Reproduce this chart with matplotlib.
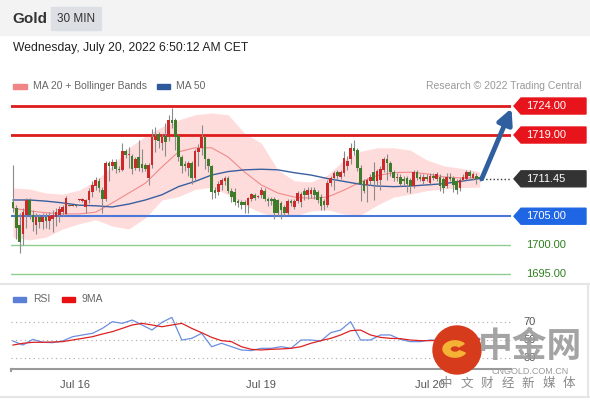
import numpy as np
import matplotlib.pyplot as plt
from matplotlib.patches import Rectangle, Polygon, Ellipse, Wedge

plt.rcParams['font.family'] = ['Liberation Sans', 'DejaVu Sans']

# OHLC, 30 minute bars
opens = [1707.4, 1706.4, 1703.5, 1702.0, 1705.2, 1707.8, 1705.2, 1703.5, 1704.8, 1704.0,
         1704.8, 1704.2, 1704.5, 1704.8, 1705.2, 1705.8, 1705.4, 1707.0, 1706.8, 1706.8,
         1707.8, 1707.6, 1706.6, 1707.8, 1709.2, 1710.2, 1711.0, 1709.6, 1708.0, 1714.2,
         1713.6, 1714.4, 1713.2, 1713.0, 1716.2, 1715.6, 1715.4, 1713.4, 1715.2, 1714.0,
         1713.8, 1711.6, 1713.8, 1718.2, 1719.2, 1717.6, 1718.8, 1718.6, 1721.6, 1721.6,
         1718.8, 1715.2, 1714.0, 1713.4, 1714.2, 1711.6, 1716.0, 1716.8, 1718.6, 1714.8,
         1713.6, 1709.6, 1709.2, 1710.4, 1711.0, 1711.6, 1709.4, 1709.2, 1707.6, 1707.4,
         1707.4, 1707.0, 1708.0, 1708.6, 1708.4, 1708.6, 1709.4, 1708.0, 1708.0, 1708.0,
         1707.8, 1707.2, 1706.6, 1705.6, 1707.6, 1706.6, 1707.6, 1707.4, 1709.4, 1708.6,
         1708.8, 1709.6, 1709.2, 1708.4, 1707.6, 1707.0, 1710.8, 1711.6, 1712.6, 1711.8,
         1712.4, 1713.6, 1714.8, 1716.8, 1716.4, 1713.4, 1711.0, 1710.4, 1711.0, 1712.6,
         1711.0, 1711.2, 1713.0, 1714.8, 1714.2, 1712.6, 1711.6, 1711.8, 1711.4, 1711.6,
         1711.2, 1710.2, 1712.6, 1711.8, 1711.0, 1711.8, 1710.8, 1712.0, 1711.4, 1711.8,
         1711.4, 1710.2, 1711.8, 1711.6, 1711.0, 1709.8, 1711.2, 1711.4, 1712.6, 1711.6,
         1712.0, 1711.8]
highs = [1713.8, 1707.0, 1705.5, 1706.5, 1708.2, 1708.2, 1706.0, 1705.5, 1705.4, 1705.5,
         1705.6, 1705.8, 1706.0, 1706.4, 1706.8, 1707.0, 1708.5, 1707.1, 1706.9, 1706.9,
         1708.0, 1708.2, 1708.0, 1709.8, 1711.0, 1711.8, 1711.6, 1710.0, 1714.6, 1714.6,
         1714.8, 1714.8, 1713.6, 1717.6, 1716.6, 1717.0, 1715.8, 1715.2, 1718.2, 1716.6,
         1714.2, 1714.2, 1720.0, 1720.4, 1719.6, 1719.2, 1721.0, 1722.4, 1723.6, 1722.0,
         1719.0, 1715.6, 1714.6, 1714.6, 1714.6, 1716.6, 1717.4, 1720.8, 1718.8, 1715.0,
         1713.8, 1710.0, 1711.0, 1711.6, 1712.0, 1712.0, 1709.8, 1709.8, 1708.0, 1707.8,
         1707.8, 1708.4, 1709.0, 1709.0, 1708.6, 1710.0, 1709.8, 1708.4, 1708.4, 1708.4,
         1708.0, 1707.6, 1707.0, 1708.0, 1708.0, 1708.0, 1709.4, 1709.2, 1709.8, 1710.0,
         1710.0, 1710.0, 1709.6, 1708.8, 1708.0, 1711.2, 1712.0, 1712.8, 1713.0, 1713.0,
         1716.2, 1715.4, 1717.6, 1718.1, 1716.8, 1713.8, 1711.4, 1711.6, 1712.2, 1714.4,
         1713.2, 1713.6, 1715.2, 1715.8, 1714.6, 1713.0, 1712.4, 1712.2, 1712.0, 1712.0,
         1711.6, 1713.0, 1713.0, 1712.2, 1712.2, 1712.2, 1712.4, 1712.4, 1712.6, 1712.2,
         1711.8, 1712.4, 1712.4, 1712.0, 1711.4, 1711.6, 1712.2, 1713.0, 1713.0, 1712.6,
         1712.4, 1712.0]
lows = [1705.8, 1701.0, 1698.7, 1700.0, 1703.0, 1704.5, 1702.5, 1702.0, 1703.0, 1702.8,
        1703.0, 1702.8, 1702.2, 1703.4, 1704.0, 1705.0, 1705.0, 1706.7, 1706.7, 1706.6,
        1707.6, 1707.4, 1705.6, 1707.2, 1708.4, 1709.6, 1709.2, 1705.6, 1707.6, 1711.0,
        1713.0, 1712.4, 1712.6, 1712.8, 1715.0, 1713.4, 1712.2, 1713.0, 1712.8, 1712.6,
        1712.8, 1710.4, 1713.4, 1716.0, 1716.8, 1716.4, 1715.4, 1718.0, 1720.2, 1716.4,
        1714.6, 1712.4, 1712.8, 1712.0, 1710.6, 1711.0, 1713.6, 1715.6, 1713.2, 1712.6,
        1708.0, 1708.2, 1708.6, 1709.6, 1710.4, 1709.0, 1707.4, 1707.0, 1706.6, 1706.2,
        1705.6, 1705.6, 1707.6, 1707.8, 1708.2, 1708.2, 1707.6, 1706.8, 1707.0, 1704.6,
        1705.0, 1704.6, 1705.0, 1705.2, 1706.8, 1706.2, 1707.2, 1706.6, 1707.8, 1708.0,
        1708.2, 1708.0, 1707.2, 1706.0, 1706.0, 1706.6, 1710.2, 1709.6, 1711.4, 1711.4,
        1712.0, 1713.0, 1714.0, 1715.6, 1712.8, 1707.6, 1709.0, 1707.4, 1710.4, 1707.8,
        1710.4, 1709.6, 1712.6, 1711.2, 1712.0, 1711.0, 1711.0, 1710.2, 1710.4, 1709.2,
        1709.0, 1709.8, 1711.2, 1711.0, 1710.6, 1711.0, 1710.4, 1711.2, 1711.0, 1709.4,
        1709.0, 1709.8, 1711.0, 1709.2, 1708.8, 1709.4, 1711.0, 1711.2, 1711.6, 1711.2,
        1710.6, 1711.0]
closes = [1706.4, 1703.0, 1700.5, 1705.8, 1707.8, 1705.2, 1704.0, 1704.8, 1704.0, 1704.8,
          1704.2, 1705.0, 1705.2, 1705.8, 1706.2, 1706.6, 1708.2, 1706.8, 1706.8, 1706.7,
          1707.9, 1708.0, 1707.8, 1709.4, 1710.4, 1711.2, 1709.8, 1708.0, 1714.2, 1713.6,
          1714.4, 1713.2, 1713.0, 1716.2, 1715.6, 1715.8, 1713.2, 1714.8, 1713.4, 1713.4,
          1713.2, 1713.8, 1718.6, 1718.8, 1718.0, 1718.6, 1717.8, 1721.6, 1721.0, 1718.6,
          1715.2, 1713.6, 1713.6, 1714.2, 1711.6, 1716.2, 1716.8, 1718.6, 1714.8, 1713.6,
          1709.2, 1709.0, 1710.6, 1711.2, 1711.6, 1709.4, 1708.4, 1707.4, 1707.2, 1707.0,
          1707.0, 1708.2, 1708.8, 1708.2, 1708.4, 1709.6, 1708.0, 1707.6, 1707.6, 1705.6,
          1705.6, 1706.0, 1705.6, 1707.6, 1707.2, 1707.6, 1709.0, 1708.8, 1708.6, 1709.6,
          1709.6, 1708.6, 1707.8, 1706.8, 1707.0, 1710.8, 1711.6, 1712.4, 1712.0, 1712.6,
          1715.0, 1714.6, 1716.8, 1716.2, 1713.4, 1710.6, 1709.4, 1711.2, 1711.8, 1711.0,
          1712.8, 1713.2, 1714.8, 1714.2, 1712.6, 1711.6, 1711.8, 1710.6, 1711.0, 1710.6,
          1710.2, 1712.6, 1711.6, 1711.4, 1711.8, 1711.4, 1712.0, 1711.6, 1712.2, 1710.2,
          1709.8, 1711.8, 1711.4, 1710.4, 1709.6, 1711.2, 1711.8, 1712.6, 1712.0, 1712.2,
          1711.4, 1711.45]

# indicators read every 5 bars
ind_bars = [0, 5, 10, 15, 20, 25, 30, 35, 40, 45, 50, 55, 60, 65, 70,
            75, 80, 85, 90, 95, 100, 105, 110, 115, 120, 125, 130, 135, 140, 141]
ma50 = [1707.8, 1707.8, 1707.6, 1707.3, 1706.9, 1706.8, 1706.6, 1707.1, 1707.8, 1708.7,
        1710.1, 1711.0, 1712.1, 1712.7, 1713.0, 1713.1, 1713.0, 1712.5, 1712.1, 1711.5,
        1711.0, 1710.5, 1710.2, 1710.1, 1710.2, 1710.4, 1710.6, 1711.0, 1711.4, 1711.5]
ma20 = [1706.4, 1705.9, 1705.6, 1705.4, 1705.4, 1705.7, 1707.3, 1709.0, 1710.7, 1713.5,
        1716.1, 1716.8, 1716.8, 1715.2, 1712.6, 1710.4, 1709.0, 1708.3, 1708.1, 1708.3,
        1709.5, 1710.9, 1712.0, 1712.5, 1712.6, 1712.3, 1711.8, 1711.6, 1711.6, 1711.6]
bb_up = [1709.9, 1709.7, 1709.0, 1708.8, 1709.5, 1711.1, 1713.7, 1716.8, 1718.8, 1720.4,
         1721.6, 1722.5, 1722.8, 1722.5, 1719.3, 1717.6, 1713.0, 1711.1, 1710.9, 1712.1,
         1714.7, 1716.2, 1716.8, 1716.8, 1716.4, 1714.7, 1713.7, 1713.3, 1712.8, 1712.6]
bb_low = [1701.4, 1700.9, 1701.4, 1702.8, 1703.7, 1704.4, 1703.3, 1702.8, 1704.7, 1707.8,
          1708.4, 1709.6, 1710.0, 1708.7, 1706.9, 1705.6, 1704.9, 1705.0, 1705.9, 1706.1,
          1705.4, 1705.2, 1706.9, 1708.3, 1708.8, 1709.4, 1709.7, 1709.9, 1710.0, 1710.0]

# RSI read every 3 bars
rsi_bars = list(range(0, 142, 3))
rsi = [48.9, 44.5, 50.7, 47.5, 47.1, 48.9, 53.6, 55.5, 57.3, 62.7,
       70.0, 68.2, 71.8, 66.4, 60.9, 69.3, 74.7, 50.0, 51.8, 57.3,
       42.7, 46.4, 42.7, 39.1, 38.4, 40.9, 40.9, 42.7, 40.9, 50.0,
       50.0, 48.9, 58.0, 60.9, 70.0, 50.0, 50.0, 55.5, 55.5, 50.7,
       48.2, 48.2, 50.0, 49.3, 50.7, 51.5, 52.2, 51.8]
rsi_ma = [44.5, 46.4, 47.5, 47.5, 47.8, 48.2, 50.0, 51.8, 53.6, 56.5,
          59.1, 62.7, 66.4, 68.2, 66.4, 64.5, 66.4, 68.2, 62.7, 58.0,
          52.9, 49.3, 48.2, 42.7, 39.8, 39.1, 39.8, 40.2, 40.9, 42.7,
          46.4, 49.3, 51.8, 55.5, 60.2, 60.9, 55.5, 52.9, 51.8, 51.5,
          50.0, 49.3, 49.3, 49.6, 50.0, 50.0, 50.4, 50.4]

resistances = [1724.00, 1719.00]
last_price = 1711.45
pivot = 1705.00
supports = [1700.00, 1695.00]
target = 1723.6

tick_bars = [18.7, 75, 126]
tick_labels = ['Jul 16', 'Jul 19', 'Jul 20']

W, H = 590, 400
def fx(px):
    return px / W
def fy(py):
    return 1 - py / H

fig = plt.figure(figsize=(5.9, 4.0), dpi=100)
fig.patch.set_facecolor('white')

# header
fig.patches.append(Rectangle((0, fy(35)), 1, 35 / H, transform=fig.transFigure,
                             color='#f3f3f4', zorder=0))
fig.patches.append(Rectangle((fx(51), fy(30)), 50 / W, 23 / H, transform=fig.transFigure,
                             color='#dcdfe4', zorder=1))
fig.text(fx(12), fy(19), 'Gold', fontsize=11, fontweight='bold', color='#333333', va='center')
fig.text(fx(76), fy(19), '30 MIN', fontsize=8.5, color='#333333', va='center', ha='center')
fig.text(fx(13), fy(48), 'Wednesday, July 20, 2022 6:50:12 AM CET', fontsize=8.7,
         color='#222222', va='center')

# legend price pane
fig.patches.append(Rectangle((fx(13), fy(88.5)), 14 / W, 5 / H, transform=fig.transFigure,
                             color='#f08585'))
fig.text(fx(33), fy(86), 'MA 20 + Bollinger Bands', fontsize=7.5, color='#666666', va='center')
fig.patches.append(Rectangle((fx(157), fy(88.5)), 13 / W, 5 / H, transform=fig.transFigure,
                             color='#2e5a9c'))
fig.text(fx(176), fy(86), 'MA 50', fontsize=7.5, color='#666666', va='center')
fig.text(fx(581), fy(86), 'Research \u00a9 2022 Trading Central', fontsize=7.5,
         color='#999999', va='center', ha='right')

# frame lines
for py in (284, 397):
    fig.add_artist(plt.Line2D([0, 1], [fy(py), fy(py)], color='#e6e6e6', lw=1.5))
fig.add_artist(plt.Line2D([fx(588), fx(588)], [fy(284), fy(397)], color='#e6e6e6', lw=1.5))

# ---- price pane
ax = fig.add_axes([fx(11), fy(285), 500 / W, 190 / H])
ax.set_xlim(-0.6, 150.45)
ax.set_ylim(1742.28 - 285 / 5.8, 1742.28 - 95 / 5.8)
ax.axis('off')

ax.fill_between(ind_bars, bb_low, bb_up, color='#ffdcdc', lw=0, zorder=1)
ax.plot(ind_bars, ma20, color='#f08a8a', lw=0.8, zorder=2)
ax.plot(ind_bars, ma50, color='#3a5f9f', lw=1.0, zorder=2)

for lvl in resistances:
    ax.axhline(lvl, color='#dd1c1c', lw=2, zorder=2)
ax.axhline(pivot, color='#4a78d8', lw=1.5, zorder=2)
for lvl in supports:
    ax.axhline(lvl, color='#90cc90', lw=1, zorder=2)

idx = np.arange(len(closes))
o = np.array(opens)
c = np.array(closes)
up = c >= o
ax.vlines(idx, lows, highs, color='#8a8a8a', lw=0.8, zorder=3)
ax.bar(idx, np.maximum(np.abs(c - o), 0.15), bottom=np.minimum(o, c), width=0.8,
       color=np.where(up, '#cc2a2a', '#3e7c2c'), lw=0, zorder=4)

ax.plot([idx[-1] + 0.6, 150.45], [last_price, last_price], ls=':', color='#333333', lw=1,
        zorder=3)

ax.annotate('', xy=(150.6, target), xytext=(idx[-1] + 0.6, last_price),
            arrowprops=dict(arrowstyle='-|>,head_length=0.9,head_width=0.45', lw=3.5,
                            color='#2f5f9f', shrinkA=0, shrinkB=0),
            annotation_clip=False, zorder=6)

# price labels
tr = ax.get_yaxis_transform()
hh = 8 / 5.8
def price_box(y, color, text_color='white'):
    pts = [(1.006, y), (1.02, y + hh), (1.15, y + hh), (1.15, y - hh), (1.02, y - hh)]
    ax.add_patch(Polygon(pts, closed=True, transform=tr, color=color, clip_on=False, zorder=5))
    ax.text(1.03, y, '%.2f' % y, transform=tr, color=text_color, fontsize=8, va='center',
            ha='left', clip_on=False, zorder=6)

for lvl in resistances:
    price_box(lvl, '#e8141c')
price_box(last_price, '#333333')
price_box(pivot, '#1f66e5')
for lvl in supports:
    ax.text(1.03, lvl, '%.2f' % lvl, transform=tr, color='#2f7f1f', fontsize=8, va='center',
            ha='left', clip_on=False)

# ---- RSI pane
fig.patches.append(Rectangle((fx(13), fy(301.5)), 13 / W, 5 / H, transform=fig.transFigure,
                             color='#5b7fd6'))
fig.text(fx(33), fy(299), 'RSI', fontsize=7.5, color='#666666', va='center')
fig.patches.append(Rectangle((fx(62), fy(301.5)), 13 / W, 5 / H, transform=fig.transFigure,
                             color='#e81010'))
fig.text(fx(82), fy(299), '9MA', fontsize=7.5, color='#666666', va='center')

rax = fig.add_axes([fx(11), fy(369), 500 / W, 64 / H])
rax.set_xlim(-0.6, 150.45)
k = 0.915
rax.set_ylim(30 - (369 - 358.3) / k, 30 + (358.3 - 305) / k)
for lvl in (30, 50, 70):
    rax.axhline(lvl, color='#aaaaaa', lw=0.8, ls=(0, (1, 3)), zorder=1)
    rax.text(1.025, lvl, str(lvl), transform=rax.get_yaxis_transform(), fontsize=8,
             color='#555555', va='center', clip_on=False)
rax.plot(rsi_bars, rsi, color='#6b8ee0', lw=0.9, zorder=3)
rax.plot(rsi_bars, rsi_ma, color='#dd2222', lw=0.9, zorder=3)
for s in ('top', 'right', 'left'):
    rax.spines[s].set_visible(False)
rax.spines['bottom'].set_color('#999999')
rax.spines['bottom'].set_linewidth(1.5)
rax.set_yticks([])
rax.set_xticks(tick_bars)
rax.set_xticklabels(tick_labels, fontsize=8, color='#555555')
rax.tick_params(axis='x', length=0, pad=8)
rax.plot([-0.6, -0.6], [rax.get_ylim()[0], rax.get_ylim()[0] - 2], color='#999999', lw=1.5,
         clip_on=False)

# watermark overlay (site logo)
fig.patches.append(Ellipse((fx(457), fy(350)), 48 / W, 48 / H, transform=fig.transFigure,
                           color='#d63c1c', zorder=10))
fig.patches.append(Wedge((fx(455), fy(349)), 12 / W, 40, 330, width=7 / W,
                         transform=fig.transFigure, color='#f5b335', zorder=11))
cjk = ['Noto Sans CJK SC', 'DejaVu Sans']
fig.text(fx(530), fy(346), '中金网', family=cjk, fontsize=25, fontweight='bold',
         color='#9a9a9a', ha='center', va='center', alpha=0.9, zorder=12)
fig.text(fx(530), fy(371), 'CNGOLD.COM.CN', fontsize=6.5, color='#9a9a9a', ha='center',
         va='center', zorder=12)
for n, ch in enumerate('中文财经新媒体'):
    fig.text(fx(446 + 20.5 * n), fy(383), ch, family=cjk, fontsize=9,
             color='#8a8a8a', ha='center', va='center', zorder=12)

fig.savefig('out.png', dpi=100)
